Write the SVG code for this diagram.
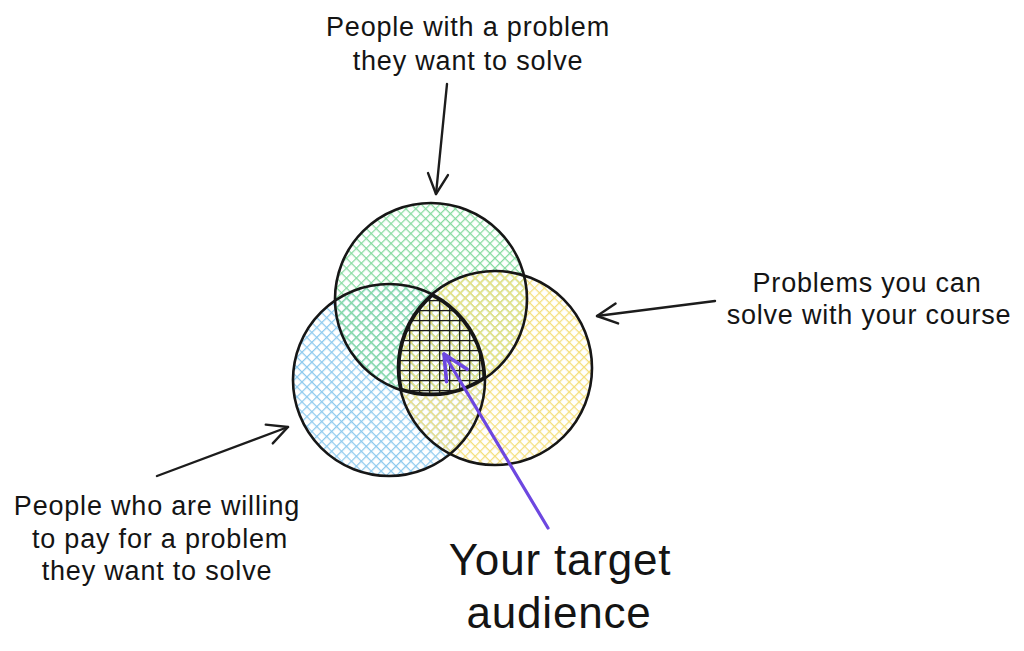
<svg xmlns="http://www.w3.org/2000/svg" width="1024" height="651" viewBox="0 0 1024 651">
<style>
.lbl{font-family:"Liberation Sans",Arial,sans-serif;font-size:27px;fill:#141414;text-anchor:middle;letter-spacing:0.8px}
.big{font-family:"Liberation Sans",Arial,sans-serif;font-size:44px;fill:#141414;text-anchor:middle;letter-spacing:0.8px}
.ring{fill:none;stroke:#161616;stroke-width:2.6}
.conn{stroke:#1c1c1c;stroke-width:2.4;fill:none;stroke-linecap:round}
</style>
<defs>
<pattern id="hg" width="7" height="7" patternUnits="userSpaceOnUse" patternTransform="rotate(45)">
<path d="M0,0.6H7M0.6,0V7" stroke="#86dba0" stroke-width="1.3"/>
</pattern>
<pattern id="hb" width="7" height="7" patternUnits="userSpaceOnUse" patternTransform="rotate(45)">
<path d="M0,0.6H7M0.6,0V7" stroke="#8cc9ee" stroke-width="1.3"/>
</pattern>
<pattern id="hy" width="7" height="7" patternUnits="userSpaceOnUse" patternTransform="rotate(45)">
<path d="M0,0.6H7M0.6,0V7" stroke="#f4df7c" stroke-width="1.3"/>
</pattern>
<pattern id="hd" width="10" height="10" patternUnits="userSpaceOnUse" x="399" y="290">
<path d="M0,0.7H10M0.7,0V10" stroke="#1a1a1a" stroke-width="1.3"/>
</pattern>
<clipPath id="cg"><circle cx="431" cy="299" r="96"/></clipPath>
<clipPath id="cy"><circle cx="495" cy="368" r="97"/></clipPath>
<clipPath id="cb"><circle cx="389" cy="380" r="96"/></clipPath>
<marker id="ah" viewBox="0 0 24 24" refX="22" refY="12" markerWidth="24" markerHeight="24" markerUnits="userSpaceOnUse" orient="auto">
<path d="M2,2 L22,12 L2,22" fill="none" stroke="#1c1c1c" stroke-width="2.4" stroke-linecap="round" stroke-linejoin="round"/>
</marker>
<marker id="ap" viewBox="0 0 30 30" refX="27" refY="15" markerWidth="30" markerHeight="30" markerUnits="userSpaceOnUse" orient="auto">
<path d="M2,3 L27,15 L2,27" fill="none" stroke="#6d47e0" stroke-width="3.6" stroke-linecap="round" stroke-linejoin="round"/>
</marker>
</defs>
<rect width="1024" height="651" fill="#ffffff"/>
<g id="blue-circle">
<circle cx="389" cy="380" r="96" fill="url(#hb)"/>
</g>
<g id="green-circle">
<circle cx="431" cy="299" r="96" fill="url(#hg)"/>
</g>
<g id="yellow-circle">
<circle cx="495" cy="368" r="97" fill="url(#hy)"/>
</g>
<g id="target-intersection">
<g clip-path="url(#cg)"><g clip-path="url(#cy)"><g clip-path="url(#cb)">
<rect x="390" y="285" width="100" height="115" fill="url(#hd)"/>
<circle cx="431" cy="299" r="96" fill="none" stroke="#161616" stroke-width="5"/>
<circle cx="495" cy="368" r="97" fill="none" stroke="#161616" stroke-width="5"/>
<circle cx="389" cy="380" r="96" fill="none" stroke="#161616" stroke-width="5"/>
</g></g></g>
</g>
<g id="outlines">
<circle class="ring" cx="389" cy="380" r="96"/>
<circle class="ring" cx="431" cy="299" r="96"/>
<circle class="ring" cx="495" cy="368" r="97"/>
</g>
<g id="connectors">
<line class="conn" x1="447" y1="84" x2="436" y2="194" marker-end="url(#ah)"/>
<line class="conn" x1="715" y1="301" x2="597" y2="316" marker-end="url(#ah)"/>
<line class="conn" x1="157" y1="476" x2="288" y2="427" marker-end="url(#ah)"/>
<line x1="548" y1="528" x2="444" y2="354" stroke="#6d47e0" stroke-width="3.2" stroke-linecap="round" marker-end="url(#ap)"/>
</g>
<g id="label-top">
<text class="lbl" x="468" y="36">People with a problem</text>
<text class="lbl" x="468" y="70">they want to solve</text>
</g>
<g id="label-right">
<text class="lbl" x="867" y="292">Problems you can</text>
<text class="lbl" x="869" y="324">solve with your course</text>
</g>
<g id="label-left">
<text class="lbl" x="157" y="515">People who are willing</text>
<text class="lbl" x="160" y="548">to pay for a problem</text>
<text class="lbl" x="157" y="580">they want to solve</text>
</g>
<g id="label-bottom">
<text class="big" x="560" y="575">Your target</text>
<text class="big" x="559" y="628">audience</text>
</g>
</svg>
